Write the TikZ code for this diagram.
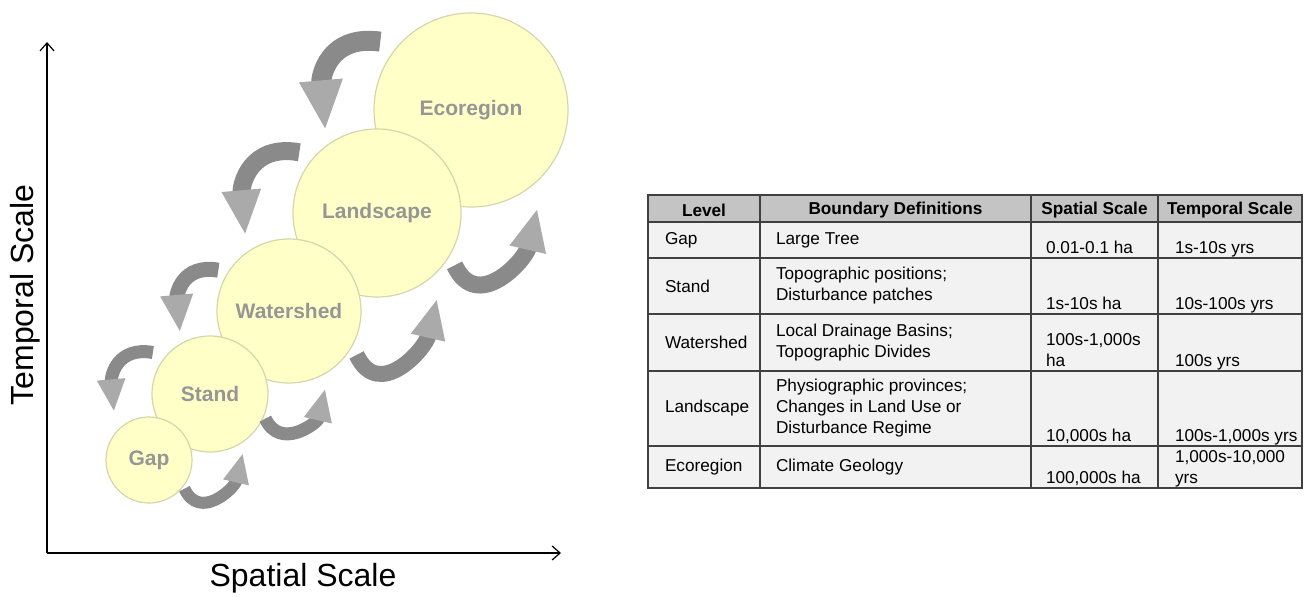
\documentclass[tikz,border=0pt]{standalone}
\usepackage{fontspec}
\setmainfont{Liberation Sans}
\usetikzlibrary{arrows.meta,calc}

\definecolor{circfill}{RGB}{255,255,200}
\definecolor{circedge}{RGB}{214,214,170}
\definecolor{labgray}{RGB}{150,150,150}
\definecolor{arrbody}{RGB}{138,138,138}
\definecolor{arrhead}{RGB}{170,170,170}
\definecolor{hdrfill}{RGB}{196,196,196}
\definecolor{cellfill}{RGB}{242,242,242}
\definecolor{tabline}{RGB}{64,64,64}

\tikzset{
  scalecirc/.style={circle, draw=circedge, fill=circfill, line width=0.6pt, inner sep=0pt,
    text=labgray, font=\fontsize{10.5}{12}\selectfont\bfseries},
  cyc/.style={line width=#1, draw=arrbody,
    -{Triangle[length=0pt 2.5, width=0pt 2.0, color=arrhead, fill=arrhead]}},
  axis/.style={line width=0.6pt, -{Straight Barb[length=4pt, width=7pt]}},
  tabrule/.style={line width=1pt, draw=tabline, line cap=rect},
  cell/.style={inner sep=0pt, outer sep=0pt, font=\fontsize{8.6}{10.5}\selectfont, align=left},
}

\begin{document}
\begin{tikzpicture}[x=0.5pt,y=0.5pt]
  \useasboundingbox (0,0) rectangle (1310,596);

  % axes
  \coordinate (origin) at (47,43);
  \coordinate (ytop) at (47,554);
  \coordinate (xend) at (561,43);
  \draw[axis] (origin) -- (ytop);
  \draw[axis] (origin) -- (xend);
  \node[font=\fontsize{16}{18}\selectfont, rotate=90] (tempaxis) at (25,301) {Temporal Scale};
  \node[font=\fontsize{16}{18}\selectfont] (spataxis) at (303,18) {Spatial Scale};

  % circles, largest first
  \node[scalecirc, minimum size=97pt] (eco) at (471,486) {Ecoregion};
  \node[scalecirc, minimum size=84pt] (land) at (377,383) {Landscape};
  \node[scalecirc, minimum size=72pt] (water) at (289,285) {Watershed};
  \node[scalecirc, minimum size=58pt] (stand) at (210,202) {Stand};
  \node[scalecirc, minimum size=43pt] (gap) at (149,136) {Gap};

  % arrows down the scales
  \draw[cyc=6.5pt] ($(stand.144)+(144:12)$) to[out=170,in=95,looseness=1.3] ($(gap.126)+(126:16)$);
  \draw[cyc=7.5pt] ($(water.150)+(150:9)$) to[out=170,in=95,looseness=1.3] ($(stand.116)+(116:10)$);
  \draw[cyc=9pt] ($(land.142)+(142:14)$) to[out=170,in=95,looseness=1.3] ($(water.120)+(120:15)$);
  \draw[cyc=10pt] ($(eco.143)+(143:16)$) to[out=172,in=95,looseness=1.3] ($(land.122)+(122:13)$);

  % arrows up the scales
  \draw[cyc=6pt] ($(gap.-39)+(-39:2)$) to[out=-65,in=257,looseness=1.35] ($(stand.-61)+(-61:9)$);
  \draw[cyc=6.5pt] ($(stand.-24)+(-24:2)$) to[out=-65,in=257,looseness=1.35] ($(water.-65)+(-65:13)$);
  \draw[cyc=8pt] ($(water.-33)+(-33:8)$) to[out=-65,in=257,looseness=1.35] ($(land.-55)+(-55:20)$);
  \draw[cyc=8.5pt] ($(land.-34)+(-34:9)$) to[out=-65,in=257,looseness=1.35] ($(eco.-56)+(-56:21)$);

  % table
  \fill[hdrfill] (648,374) rectangle (1302,401);
  \fill[cellfill] (648,108) rectangle (1302,374);
  \foreach \y in {401,374,338,282,225,150.5,108}
    \draw[tabrule] (648,\y) -- (1302,\y);
  \foreach \x in {648,760,1031,1158,1302}
    \draw[tabrule] (\x,108) -- (\x,401);

  \node[cell, font=\fontsize{8.6}{10.5}\selectfont\bfseries] (hlevel) at (704,386) {Level};
  \node[cell, font=\fontsize{8.6}{10.5}\selectfont\bfseries] (hbound) at (895.5,386) {Boundary Definitions};
  \node[cell, font=\fontsize{8.6}{10.5}\selectfont\bfseries] (hspat) at (1094.5,386) {Spatial Scale};
  \node[cell, font=\fontsize{8.6}{10.5}\selectfont\bfseries] (htemp) at (1230,386) {Temporal Scale};

  \foreach \key/\mid/\bot/\lev/\bnd/\spa/\tmp in {
    gap/356/338/Gap/{Large Tree}/{0.01-0.1 ha}/{1s-10s yrs},
    stand/310/282/Stand/{Topographic positions;\\Disturbance patches}/{1s-10s ha}/{10s-100s yrs},
    water/253.5/225/Watershed/{Local Drainage Basins;\\Topographic Divides}/{100s-1,000s\\ha}/{100s yrs},
    land/187.75/150.5/Landscape/{Physiographic provinces;\\Changes in Land Use or\\Disturbance Regime}/{10,000s ha}/{100s-1,000s yrs},
    eco/129.25/108/Ecoregion/{Climate Geology}/{100,000s ha}/{1,000s-10,000\\yrs}}
  {
    \node[cell, anchor=west] (lv-\key) at (665,\mid) {\lev};
    \node[cell, anchor=west] (bd-\key) at (776,\mid) {\bnd};
    \node[cell, anchor=south west, text depth=0pt] (sp-\key) at (1046,\bot+4.5) {\spa};
    \node[cell, anchor=south west, text depth=0pt] (tp-\key) at (1175,\bot+4.5) {\tmp};
  }
\end{tikzpicture}
\end{document}
